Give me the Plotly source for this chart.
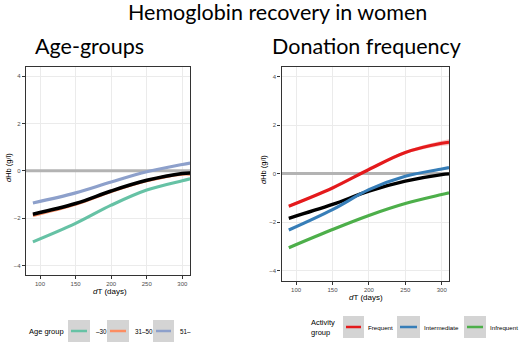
import plotly.graph_objects as go

# ---------------- data ----------------
age_days = [90, 150, 200, 250, 300, 311]
age_groups = ["-30", "31-50", "51-"]
age_young = [-3.0, -2.22, -1.45, -0.81, -0.42, -0.34]
age_mid = [-1.88, -1.41, -0.87, -0.42, -0.14, -0.14]
age_old = [-1.36, -0.93, -0.47, -0.04, 0.27, 0.33]
age_all = [-1.83, -1.38, -0.85, -0.40, -0.11, -0.09]

freq_days = [90, 150, 200, 250, 300, 310]
freq_groups = ["Frequent", "Intermediate", "Infrequent"]
freq_frequent = [-1.34, -0.59, 0.17, 0.87, 1.25, 1.29]
freq_frequent_ci = [0.06, 0.04, 0.04, 0.06, 0.1, 0.12]
freq_intermediate = [-2.32, -1.48, -0.66, -0.11, 0.19, 0.25]
freq_all = [-1.84, -1.27, -0.72, -0.31, -0.04, -0.01]
freq_infrequent = [-3.05, -2.3, -1.72, -1.23, -0.86, -0.79]

x_ticks = [100, 150, 200, 250, 300]
y_ticks = [-4, -2, 0, 2, 4]

age_colors = ["#66c2a5", "#fc8d62", "#8da0cb"]
freq_colors = ["#e41a1c", "#377eb8", "#4daf4a"]

W, H = 520, 352
def X(px):
    return px / W
def Y(py):
    return 1 - py / H

fig = go.Figure()

LW = 3.2
# reference line at 0
for xa, ya in (("x", "y"), ("x2", "y2")):
    fig.add_trace(go.Scatter(x=[75, 320], y=[0, 0], mode="lines", xaxis=xa, yaxis=ya,
                             line=dict(color="#b3b3b3", width=3), showlegend=False, hoverinfo="skip"))

# left panel
for vals, col in ((age_young, age_colors[0]), (age_mid, age_colors[1]), (age_old, age_colors[2])):
    fig.add_trace(go.Scatter(x=age_days, y=vals, mode="lines", line=dict(color=col, width=LW, shape="spline"),
                             xaxis="x", yaxis="y", showlegend=False))
fig.add_trace(go.Scatter(x=age_days, y=age_all, mode="lines", line=dict(color="black", width=LW + 0.3, shape="spline"),
                         xaxis="x", yaxis="y", showlegend=False))

# right panel
fig.add_trace(go.Scatter(x=freq_days, y=freq_all, mode="lines", line=dict(color="black", width=LW + 0.2, shape="spline"),
                         xaxis="x2", yaxis="y2", showlegend=False))
upper = [v + c for v, c in zip(freq_frequent, freq_frequent_ci)]
lower = [v - c for v, c in zip(freq_frequent, freq_frequent_ci)]
fig.add_trace(go.Scatter(x=freq_days, y=upper, mode="lines", line=dict(width=0, shape="spline"),
                         xaxis="x2", yaxis="y2", showlegend=False, hoverinfo="skip"))
fig.add_trace(go.Scatter(x=freq_days, y=lower, mode="lines", line=dict(width=0, shape="spline"), fill="tonexty",
                         fillcolor="rgba(228,26,28,0.25)", xaxis="x2", yaxis="y2", showlegend=False, hoverinfo="skip"))
for vals, col in ((freq_frequent, freq_colors[0]), (freq_intermediate, freq_colors[1]), (freq_infrequent, freq_colors[2])):
    fig.add_trace(go.Scatter(x=freq_days, y=vals, mode="lines", line=dict(color=col, width=LW, shape="spline"),
                             xaxis="x2", yaxis="y2", showlegend=False))

tickfont = dict(family="Liberation Sans, Arial", size=6, color="#4d4d4d")
common_x = dict(tickvals=x_ticks, ticks="outside", ticklen=3, tickcolor="#333333", tickfont=tickfont,
                showgrid=True, gridcolor="#ebebeb", gridwidth=1, zeroline=False, showline=True,
                linecolor="#333333", linewidth=1.2, mirror=True)
common_y = dict(tickvals=y_ticks, ticks="outside", ticklen=3, tickcolor="#333333", tickfont=tickfont,
                showgrid=True, gridcolor="#ebebeb", gridwidth=1, zeroline=False, showline=True,
                linecolor="#333333", linewidth=1.2, mirror=True, range=[-4.4, 4.4])

fig.update_layout(
    width=W, height=H, margin=dict(l=0, r=0, t=0, b=0),
    paper_bgcolor="white", plot_bgcolor="white",
    xaxis=dict(common_x, domain=[X(26), X(190)], range=[80.3, 310.8], anchor="y"),
    yaxis=dict(common_y, domain=[Y(275), Y(66.7)], anchor="x"),
    xaxis2=dict(common_x, domain=[X(281.5), X(449)], range=[80, 310], anchor="y2"),
    yaxis2=dict(common_y, domain=[Y(280.5), Y(66.7)], anchor="x2"),
)

ann = []
titlefont = "Lato, Open Sans, sans-serif"
ann.append(dict(text="Hemoglobin recovery in women", x=X(277), y=Y(12), xref="paper", yref="paper",
                showarrow=False, font=dict(family=titlefont, size=21.5, color="black"), xanchor="center", yanchor="middle"))
ann.append(dict(text="Age-groups", x=X(33), y=Y(46), xref="paper", yref="paper",
                showarrow=False, font=dict(family=titlefont, size=21.5, color="black"), xanchor="left", yanchor="middle"))
ann.append(dict(text="Donation frequency", x=X(270), y=Y(46), xref="paper", yref="paper",
                showarrow=False, font=dict(family=titlefont, size=21.5, color="black"), xanchor="left", yanchor="middle"))
axfont = dict(family="Liberation Sans, Arial", size=7.5, color="black")
for xp, yp in ((8, 168), (263, 170)):
    ann.append(dict(text="<i>d</i>Hb (g/l)", x=X(xp), y=Y(yp), xref="paper", yref="paper", textangle=-90,
                    showarrow=False, font=axfont, xanchor="center", yanchor="middle"))
for xp, yp in ((110, 291), (366, 297)):
    ann.append(dict(text="<i>d</i>T (days)", x=X(xp), y=Y(yp), xref="paper", yref="paper",
                    showarrow=False, font=dict(family="Liberation Sans, Arial", size=8, color="black"),
                    xanchor="center", yanchor="middle"))

shapes = []
# left legend
ann.append(dict(text="Age group", x=X(27), y=Y(331.5), xref="paper", yref="paper", showarrow=False,
                font=dict(family="Liberation Sans, Arial", size=7.5, color="black"), xanchor="left", yanchor="middle"))
for (x0, x1), lab, col in zip(((68, 90), (107, 129), (153, 174)), age_groups, age_colors):
    shapes.append(dict(type="rect", xref="paper", yref="paper", x0=X(x0), x1=X(x1), y0=Y(342), y1=Y(320),
                       fillcolor="#d4d4d4", line=dict(width=0)))
    shapes.append(dict(type="line", xref="paper", yref="paper", x0=X(x0 + 3), x1=X(x1 - 3), y0=Y(331), y1=Y(331),
                       line=dict(color=col, width=2.5)))
    ann.append(dict(text=lab.replace("-", "–"), x=X(x1 + 4), y=Y(331.5), xref="paper", yref="paper", showarrow=False,
                    font=dict(family="Liberation Sans, Arial", size=6.3, color="black"), xanchor="left", yanchor="middle"))
# right legend
ann.append(dict(text="Activity<br>group", x=X(309), y=Y(327), xref="paper", yref="paper", showarrow=False, align="left",
                font=dict(family="Liberation Sans, Arial", size=7.5, color="black"), xanchor="left", yanchor="middle"))
for (x0, x1), lab, col in zip(((343, 364), (397, 420), (464, 486)), freq_groups, freq_colors):
    shapes.append(dict(type="rect", xref="paper", yref="paper", x0=X(x0), x1=X(x1), y0=Y(338), y1=Y(316),
                       fillcolor="#d4d4d4", line=dict(width=0)))
    shapes.append(dict(type="line", xref="paper", yref="paper", x0=X(x0 + 3), x1=X(x1 - 3), y0=Y(327), y1=Y(327),
                       line=dict(color=col, width=2.5)))
    ann.append(dict(text=lab, x=X(x1 + 2), y=Y(327.5), xref="paper", yref="paper", showarrow=False,
                    font=dict(family="Liberation Sans, Arial", size=6.2, color="black"), xanchor="left", yanchor="middle"))

fig.update_layout(annotations=ann, shapes=shapes)
fig.write_html("out.html", config={"displayModeBar": False},
               post_script="document.body.style.margin='0';document.body.style.overflow='hidden';")
